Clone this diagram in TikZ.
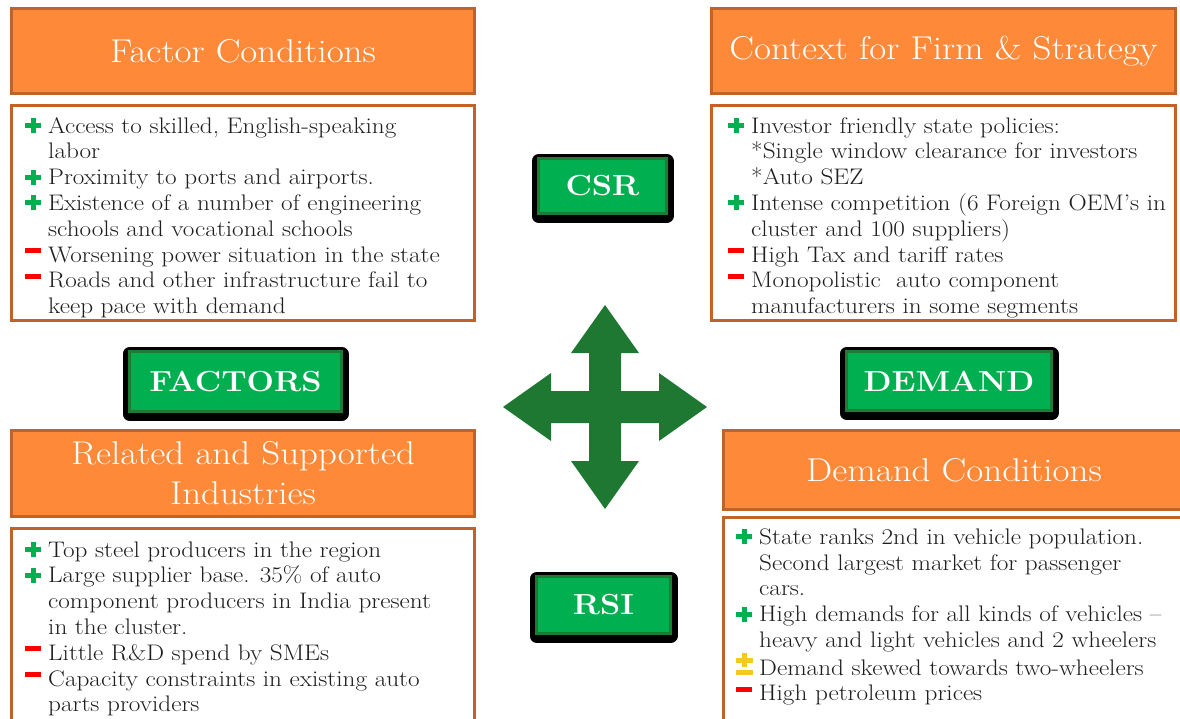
\documentclass[tikz,border=0pt]{standalone}
\usepackage{fontspec}
\setmainfont{Latin Modern Roman}[FakeStretch=1.12]
\usepackage{tikz}
\definecolor{headfill}{RGB}{253,137,57}
\definecolor{headline}{RGB}{193,98,41}
\definecolor{tagfill}{RGB}{0,175,80}
\definecolor{tagline}{RGB}{30,123,52}
\definecolor{arrowgreen}{RGB}{31,120,50}
\definecolor{progreen}{RGB}{0,176,80}
\definecolor{conred}{RGB}{255,0,0}
\definecolor{mixyellow}{RGB}{247,200,30}
\definecolor{bodytext}{RGB}{30,30,30}
\tikzset{
    header/.style={
        rectangle, draw=headline, fill=headfill, line width=3pt,
        text=white, align=center, inner sep=0pt,
        font=\fontsize{33}{40}\selectfont
    },
    bodybox/.style={
        rectangle, draw=headline, fill=white, line width=2.5pt, inner sep=0pt
    },
    points/.style={
        anchor=base west, align=left, inner sep=0pt, text=bodytext,
        font=\fontsize{22.5}{25.8}\selectfont
    },
    tag/.style={
        rectangle, draw=tagline, fill=tagfill, line width=3pt,
        text=white, inner sep=0pt, font=\fontsize{29}{32}\selectfont\bfseries,
        preaction={draw=black, fill=black, line width=14pt, line join=round,
            transform canvas={yshift=-2.5pt}}
    }
}
% bullet marks
\newcommand{\pro}{\tikz[baseline=0pt,x=1pt,y=1pt]{
	\fill[progreen] (0,5) rectangle (16,10);
	\fill[progreen] (5.5,0) rectangle (10.5,15);}}
\newcommand{\con}{\tikz[baseline=0pt,x=1pt,y=1pt]{
	\fill[conred] (0,9) rectangle (16,14);}}
\newcommand{\mix}{\tikz[baseline=0pt,x=1pt,y=1pt]{
	\fill[mixyellow] (0,12.5) rectangle (17,17.5);
	\fill[mixyellow] (6,8) rectangle (11,22);
	\fill[mixyellow] (0,0) rectangle (17,5);}}
\newcommand{\pitem}[2]{\makebox[23pt][l]{#1}#2}
\newcommand{\pcont}[1]{\hspace*{23pt}#1}

\begin{document}
\begin{tikzpicture}[x=1pt, y=-1pt]
		\clip (0,0) rectangle (1180,719);

		% Factor Conditions (text nodes sit on their last baseline)
		\node[header, minimum width=463pt, minimum height=85pt] (fchead) at (243,51) {Factor Conditions};
		\node[bodybox, minimum width=463pt, minimum height=215pt] (fcbody) at (243,213) {};
		\node[points] (fctext) at (25,313.6) {%
			\pitem{\pro}{Access to skilled, English-speaking}\\
			\pcont{labor}\\
			\pitem{\pro}{Proximity to ports and airports.}\\
			\pitem{\pro}{Existence of a number of engineering}\\
			\pcont{schools and vocational schools}\\
			\pitem{\con}{Worsening power situation in the state}\\
			\pitem{\con}{Roads and other infrastructure fail to}\\
			\pcont{keep pace with demand}};

		% Context for Firm & Strategy
		\node[header, minimum width=464pt, minimum height=85pt] (cfhead) at (943.5,51) {Context for Firm \& Strategy};
		\node[bodybox, minimum width=464pt, minimum height=215pt] (cfbody) at (943.5,213) {};
		\node[points] (cftext) at (728,313.6) {%
			\pitem{\pro}{Investor friendly state policies:}\\
			\pcont{*Single window clearance for investors}\\
			\pcont{*Auto SEZ}\\
			\pitem{\pro}{Intense competition (6 Foreign OEM's in}\\
			\pcont{cluster and 100 suppliers)}\\
			\pitem{\con}{High Tax and tariff rates}\\
			\pitem{\con}{Monopolistic\ \ auto component}\\
			\pcont{manufacturers in some segments}};

		% Related and Supported Industries
		\node[header, minimum width=463pt, minimum height=86pt] (rshead) at (243,473.5) {Related and Supported\\Industries};
		\node[bodybox, minimum width=463pt, minimum height=215pt] (rsbody) at (243,636) {};
		\node[points] (rstext) at (25,711.8) {%
			\pitem{\pro}{Top steel producers in the region}\\
			\pitem{\pro}{Large supplier base. 35\% of auto}\\
			\pcont{component producers in India present}\\
			\pcont{in the cluster.}\\
			\pitem{\con}{Little R\&D spend by SMEs}\\
			\pitem{\con}{Capacity constraints in existing auto}\\
			\pcont{parts providers}};

		% Demand Conditions
		\node[header, minimum width=461pt, minimum height=79pt] (dchead) at (954,470) {Demand Conditions};
		\node[bodybox, minimum width=461pt, minimum height=221pt] (dcbody) at (954,628) {};
		\node[points] (dctext) at (736,700.8) {%
			\pitem{\pro}{State ranks 2nd in vehicle population.}\\
			\pcont{Second largest market for passenger}\\
			\pcont{cars.}\\
			\pitem{\pro}{High demands for all kinds of vehicles --}\\
			\pcont{heavy and light vehicles and 2 wheelers}\\
			\pitem{\mix}{Demand skewed towards two-wheelers}\\
			\pitem{\con}{High petroleum prices}};

		% Tags
		\node[tag, minimum width=128pt, minimum height=55pt] (csr) at (602.5,186) {CSR};
		\node[tag, minimum width=212pt, minimum height=60pt] (factors) at (235.5,381.5) {FACTORS};
		\node[tag, minimum width=205pt, minimum height=59pt] (demand) at (949,381) {DEMAND};
		\node[tag, minimum width=134pt, minimum height=57pt] (rsi) at (603.5,605) {RSI};

		% Four-way arrow
		\fill[arrowgreen, shift={(605,407)}]
			(0,-102) -- (34,-54) -- (16,-54) -- (16,-16) -- (54,-16) -- (54,-34) -- (102,0)
			-- (54,34) -- (54,16) -- (16,16) -- (16,54) -- (34,54) -- (0,102)
			-- (-34,54) -- (-16,54) -- (-16,16) -- (-54,16) -- (-54,34) -- (-102,0)
			-- (-54,-34) -- (-54,-16) -- (-16,-16) -- (-16,-54) -- (-34,-54) -- cycle;

	\end{tikzpicture}
\end{document}
